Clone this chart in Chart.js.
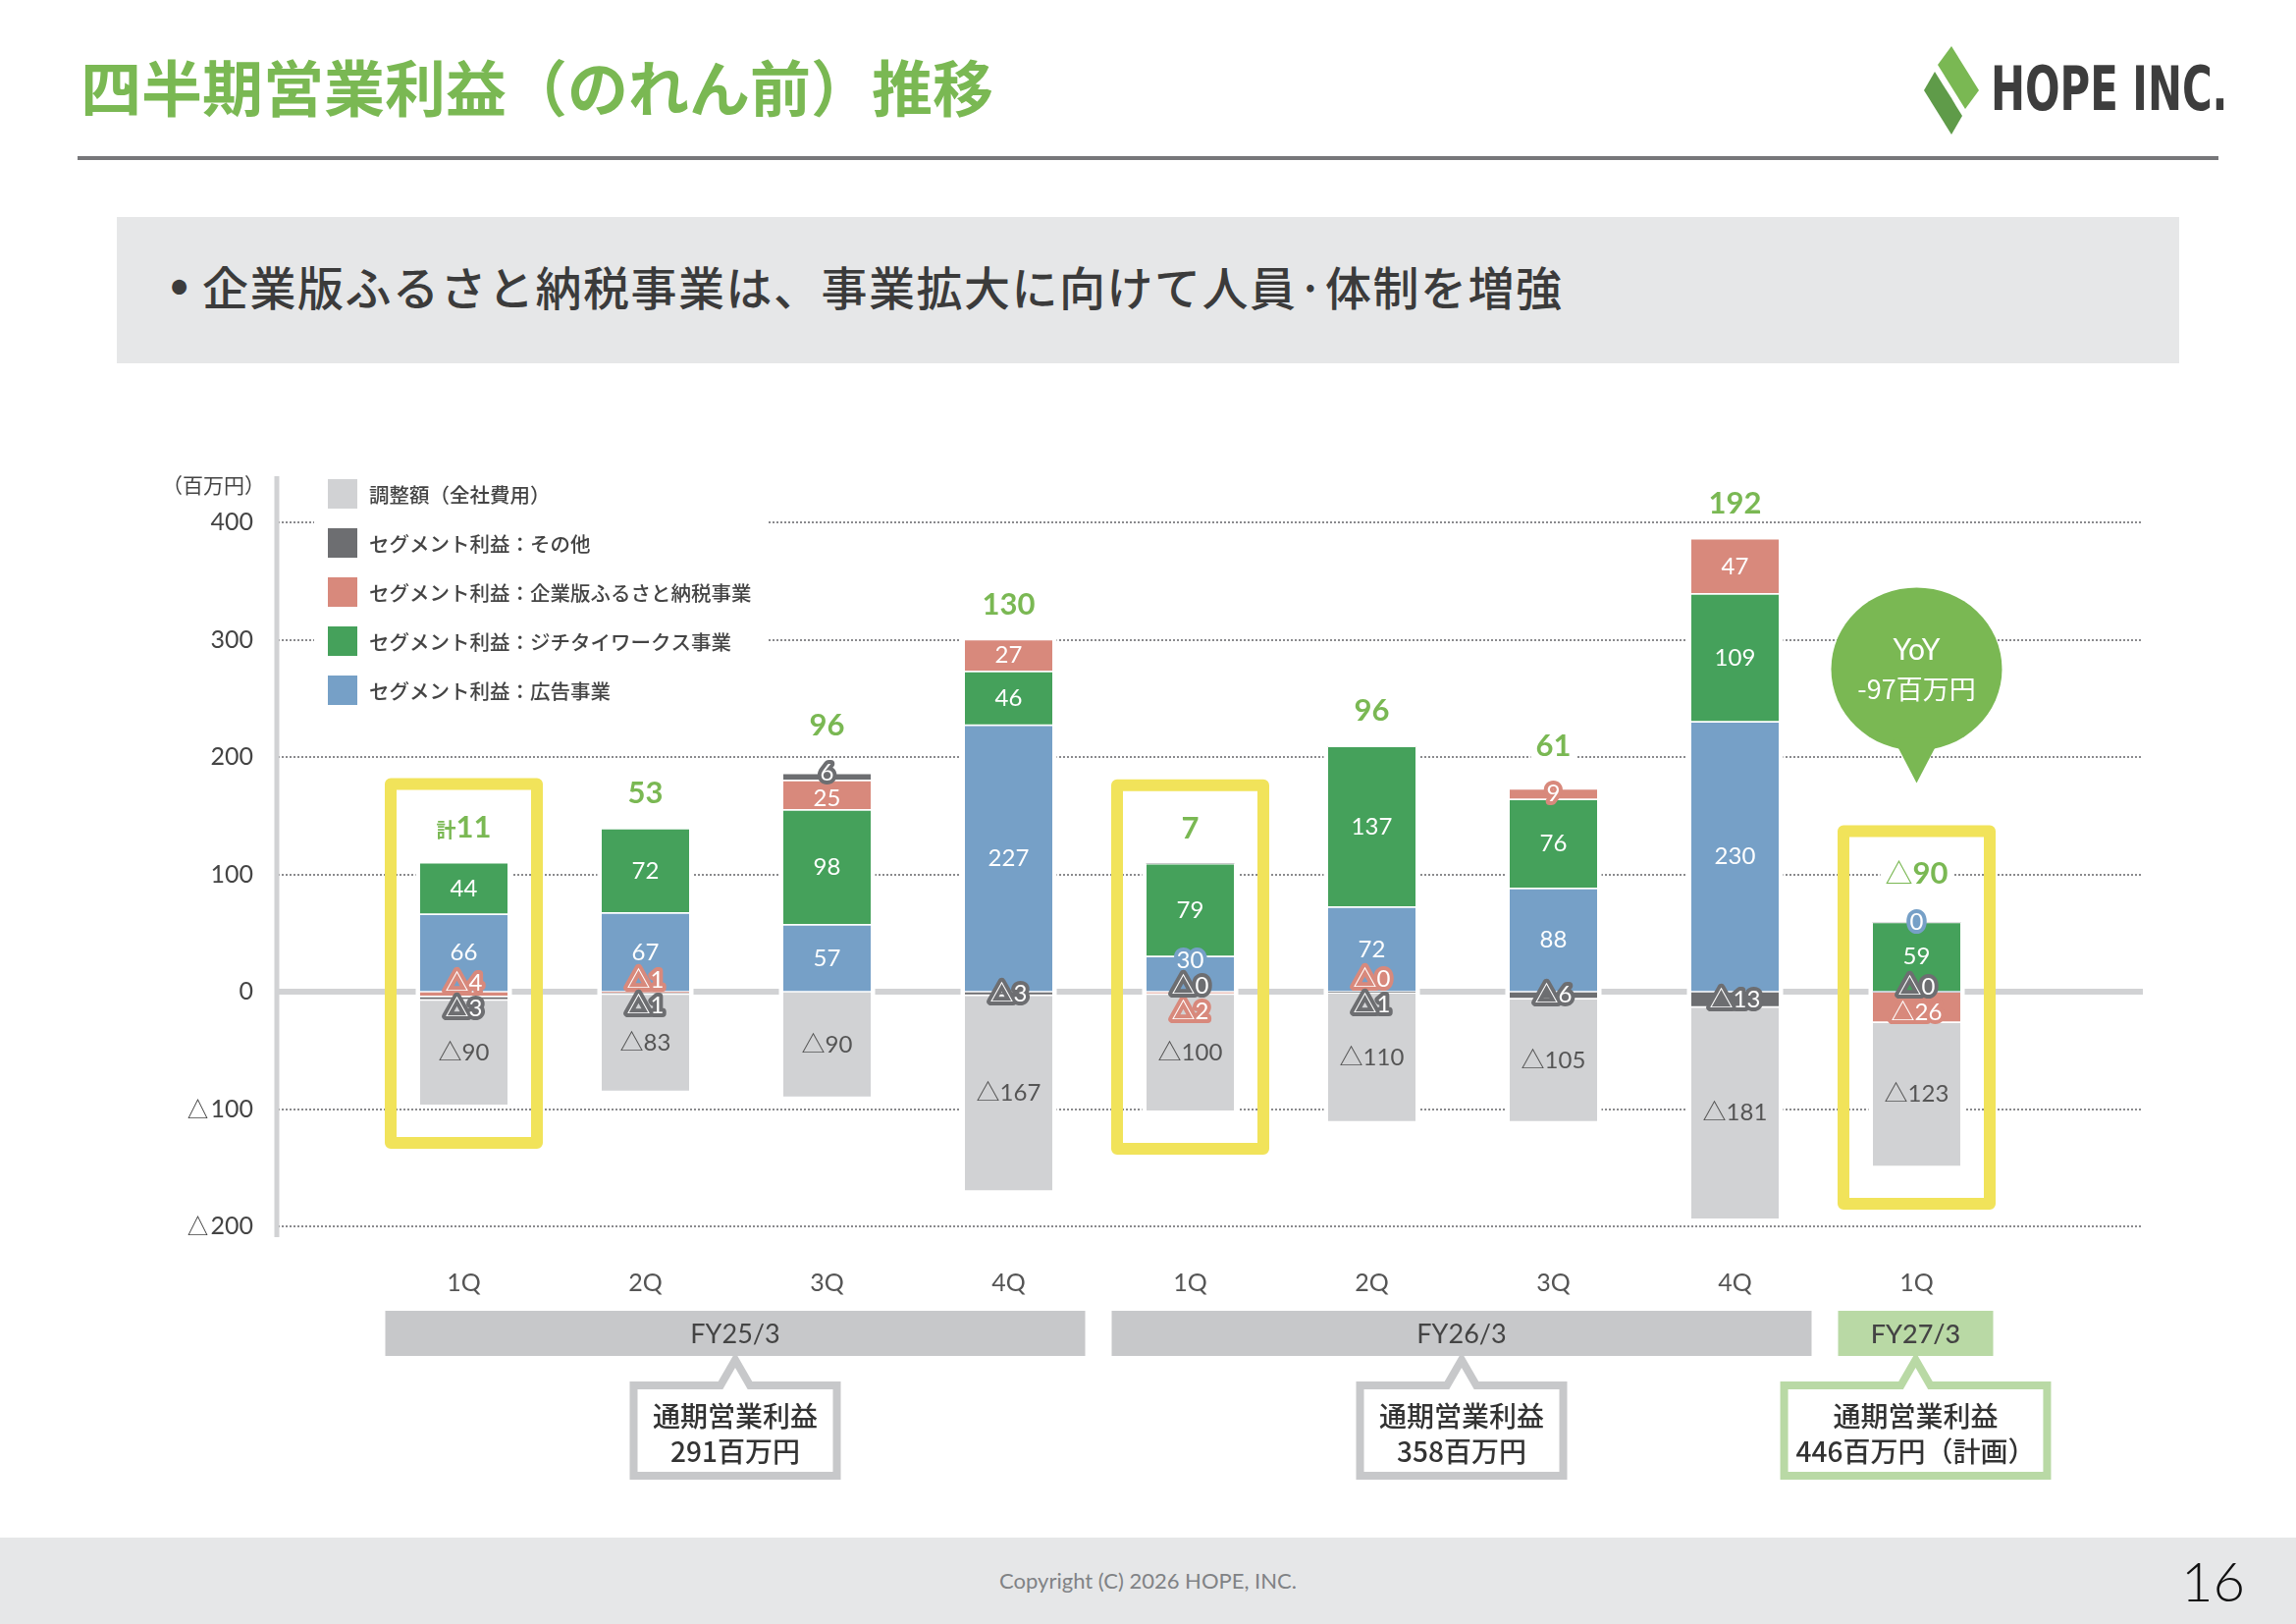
<!DOCTYPE html>
<html lang="ja">
<head>
<meta charset="utf-8">
<title>四半期営業利益（のれん前）推移</title>
<script src="https://cdn.jsdelivr.net/npm/chart.js@4.4.1/dist/chart.umd.min.js"></script>
<style>
  html, body { margin: 0; padding: 0; background: #fff; }
  body { width: 2339px; height: 1654px; position: relative; overflow: hidden; font-family: 'Noto Sans CJK JP', sans-serif; }
  .title { position: absolute; left: 82px; top: 56px; font-size: 62px; line-height: 62px; font-weight: 700; color: #7ab853; white-space: nowrap; }
  .rule { position: absolute; left: 79px; top: 159px; width: 2181px; height: 4px; background: #77777a; }
  .logo { position: absolute; left: 1958px; top: 47px; }
  .logo-text { position: absolute; left: 2028px; top: 60px; font-family: 'Liberation Sans Narrow', 'DejaVu Sans Condensed', sans-serif; font-weight: 700; font-size: 62px; line-height: 62px; color: #3d3d3d; transform-origin: left top; transform: scaleX(0.75); white-space: nowrap; }
  .lead { position: absolute; left: 119px; top: 221px; width: 2101px; height: 149px; background: #e6e7e8; }
  .lead .dot { position: absolute; left: 52px; top: 44px; font-family: Lato, sans-serif; font-size: 40px; line-height: 50px; color: #3b3b3b; }
  .lead .txt { position: absolute; left: 87px; top: 45px; font-size: 47px; line-height: 50px; font-weight: 500; letter-spacing: 1.5px; color: #3b3b3b; white-space: nowrap; }
  .footer { position: absolute; left: 0; top: 1566px; width: 2339px; height: 88px; background: #e6e7e8; }
  .copy { position: absolute; left: 0; width: 2339px; top: 30px; text-align: center; font-family: Lato, sans-serif; font-size: 22px; line-height: 28px; color: #808285; }
  .page { position: absolute; left: 2222px; top: 12px; font-family: Lato, sans-serif; font-weight: 300; font-size: 56px; line-height: 64px; color: #111; }
  #chart { position: absolute; left: 0; top: 0; }
</style>
</head>
<body>
<div class="title">四半期営業利益（のれん前）推移</div>
<svg class="logo" width="62" height="92" viewBox="0 0 62 92">
  <polygon points="30,0 58,45 44,64 16,19" fill="#7ab853"/>
  <polygon points="13,26 41,71 30,90 2,45" fill="#5f9b49"/>
  <polygon points="19,36 30,53 34,60 24,44" fill="#4d8a3b"/>
</svg>
<div class="logo-text">HOPE INC.</div>
<div class="rule"></div>
<div class="lead"><span class="dot">•</span><span class="txt">企業版ふるさと納税事業は、事業拡大に向けて人員·体制を増強</span></div>
<div class="footer"><div class="copy">Copyright (C) 2026 HOPE, INC.</div><div class="page">16</div></div>
<canvas id="chart" width="2339" height="1654"></canvas>
<script>
// 四半期ごとのセグメント利益（百万円）、△はマイナス
const quarterLabels = ['1Q', '2Q', '3Q', '4Q', '1Q', '2Q', '3Q', '4Q', '1Q'];
const fiscalYears = ['FY25/3', 'FY26/3', 'FY27/3'];
const fiscalYearOf = [0, 0, 0, 0, 1, 1, 1, 1, 2];
const adSegment = [66, 67, 57, 227, 30, 72, 88, 230, 0];
const jichitaiSegment = [44, 72, 98, 46, 79, 137, 76, 109, 59];
const furusatoSegment = [-4, -1, 25, 27, -2, -0, 9, 47, -26];
const otherSegment = [-3, -1, 6, -3, -0, -1, -6, -13, -0];
const corporateCost = [-90, -83, -90, -167, -100, -110, -105, -181, -123];
const quarterTotals = [11, 53, 96, 130, 7, 96, 61, 192, -90];
const totalPrefix = ['計', '', '', '', '', '', '', '', ''];
const annualProfit = [291, 358, 446];
const annualNote = ['', '', '（計画）'];
const highlighted = [0, 4, 8];
const yoyText = ['YoY', '-97百万円'];

const segColors = ['#76a0c7', '#45a15b', '#d8897c', '#6d6e71', '#d1d2d4'];
const fyColors = ['#c7c8ca', '#c7c8ca', '#b9d9a5'];
const GREEN = '#7ab853';
const NUM_FONT = 'Lato, "Noto Sans CJK JP", sans-serif';
const JP_FONT = '"Noto Sans CJK JP", sans-serif';

const isMinus = v => v < 0 || Object.is(v, -0);
const fmt = v => isMinus(v) ? '△' + Math.abs(v) : String(v);

// stack extents per bar, same order Chart.js stacks them
function stackLayout(chart, i) {
    const y = chart.scales.y;
    let pos = 0, neg = 0;
    const segs = chart.data.datasets.map((ds, d) => {
        const v = ds.data[i];
        const minus = isMinus(v);
        const a = minus ? neg : pos;
        if (minus) neg += v; else pos += v;
        const b = minus ? neg : pos;
        return { d, v, minus, p0: y.getPixelForValue(a), p1: y.getPixelForValue(b) };
    });
    return { segs, top: y.getPixelForValue(pos), bottom: y.getPixelForValue(neg), zero: y.getPixelForValue(0) };
}

// put segment labels at segment centres, spread apart the small ones that collide
function placeLabels(chart, i) {
    const L = stackLayout(chart, i);
    const items = [];
    L.segs.forEach(s => {
        if (s.d === 4) return;
        const h = Math.abs(s.p1 - s.p0);
        let y0;
        if (s.v === 0 && !s.minus) y0 = L.top;
        else if (s.v === 0) y0 = L.zero;
        else y0 = (s.p0 + s.p1) / 2;
        items.push(Object.assign({}, s, { h, y0, y: y0 }));
    });
    const movable = items
        .filter(t => t.h < 45 && !(t.v === 0 && !t.minus))
        .sort((a, b) => (a.y0 - b.y0) || (a.minus - b.minus));
    const gap = 26;
    let groups = movable.map(t => [t]);
    let changed = true;
    while (changed) {
        changed = false;
        for (let g = 0; g < groups.length - 1; g++) {
            const A = groups[g], B = groups[g + 1];
            if (A[A.length - 1].y + gap > B[0].y + 0.01) {
                const m = A.concat(B);
                const mean = m.reduce((s, t) => s + t.y0, 0) / m.length;
                m.forEach((t, k) => { t.y = mean + (k - (m.length - 1) / 2) * gap; });
                groups.splice(g, 2, m);
                changed = true;
                break;
            }
        }
    }
    items.forEach(t => { t.outlined = t.h < 27 || Math.abs(t.y - t.y0) > 4; });
    const topMost = Math.min(L.top, ...items.map(t => t.y - 13));
    return { L, items, totalY: topMost - 36 };
}

const decor = {
    id: 'decor',
    beforeDatasetsDraw(chart) {
        const { ctx, scales: { x, y } } = chart;
        const left = 283, right = 2183;
        ctx.save();
        ctx.strokeStyle = '#8a8a8d';
        ctx.lineWidth = 2;
        ctx.setLineDash([2, 2]);
        y.ticks.forEach(t => {
            if (t.value === 0) return;
            const py = Math.round(y.getPixelForValue(t.value));
            ctx.beginPath(); ctx.moveTo(left, py); ctx.lineTo(right, py); ctx.stroke();
        });
        ctx.setLineDash([]);
        ctx.strokeStyle = '#d1d2d4';
        ctx.lineWidth = 6;
        const pz = y.getPixelForValue(0);
        ctx.beginPath(); ctx.moveTo(left, pz); ctx.lineTo(right, pz); ctx.stroke();
        ctx.lineWidth = 5;
        ctx.beginPath(); ctx.moveTo(282, y.top - 47); ctx.lineTo(282, y.bottom + 11); ctx.stroke();
        // white halo round each bar
        ctx.fillStyle = '#fff';
        quarterLabels.forEach((_, i) => {
            const L = stackLayout(chart, i);
            const cx = x.getPixelForValue(i);
            ctx.fillRect(cx - 49, L.top - 2, 98, L.bottom - L.top + 4);
        });
        ctx.restore();
    },
    afterDatasetsDraw(chart) {
        const { ctx, scales: { x, y } } = chart;
        ctx.save();
        ctx.textAlign = 'center';
        ctx.textBaseline = 'middle';
        quarterLabels.forEach((_, i) => {
            const cx = x.getPixelForValue(i);
            const P = placeLabels(chart, i);
            // segment labels
            ctx.font = '24px ' + NUM_FONT;
            P.items.forEach(t => {
                const txt = fmt(t.v);
                if (t.outlined) {
                    ctx.lineJoin = 'round';
                    ctx.lineWidth = 8;
                    ctx.strokeStyle = segColors[t.d];
                    ctx.strokeText(txt, cx, t.y);
                }
                ctx.fillStyle = '#fff';
                ctx.fillText(txt, cx, t.y);
            });
            const g = P.L.segs[4];
            ctx.fillStyle = '#555';
            ctx.fillText(fmt(g.v), cx, (g.p0 + g.p1) / 2);

            // total above the bar
            const tv = quarterTotals[i];
            const pre = totalPrefix[i] || (isMinus(tv) ? '△' : '');
            const num = String(Math.abs(tv));
            const preFont = totalPrefix[i] ? 'bold 20px ' + JP_FONT : '28px ' + NUM_FONT;
            const numFont = 'bold 31px ' + NUM_FONT;
            ctx.font = preFont; const wPre = pre ? ctx.measureText(pre).width : 0;
            ctx.font = numFont; const wNum = ctx.measureText(num).width;
            const w = wPre + wNum;
            ctx.fillStyle = '#fff';
            ctx.fillRect(cx - w / 2 - 5, P.totalY - 16, w + 10, 32);
            ctx.fillStyle = GREEN;
            ctx.textAlign = 'left';
            if (pre) { ctx.font = preFont; ctx.fillText(pre, cx - w / 2, P.totalY + (totalPrefix[i] ? 3 : 0)); }
            ctx.font = numFont; ctx.fillText(num, cx - w / 2 + wPre, P.totalY);
            ctx.textAlign = 'center';

            // highlight frame
            if (highlighted.includes(i)) {
                const top = P.totalY - 50, bottom = P.L.bottom + 44;
                ctx.strokeStyle = '#f1e35a';
                ctx.lineWidth = 12;
                ctx.strokeRect(cx - 80.5 + 6, top + 6, 161 - 12, bottom - top - 12);
            }
        });

        // legend (top-left, reverse dataset order)
        ctx.fillStyle = '#fff';
        ctx.fillRect(320, 478, 462, 248);
        ctx.textAlign = 'left';
        ctx.font = '500 20.5px ' + JP_FONT;
        const ds = chart.data.datasets.slice().reverse();
        ds.forEach((d, k) => {
            const cy = 503 + k * 50;
            ctx.fillStyle = d.backgroundColor;
            ctx.fillRect(334, cy - 15, 30, 30);
            ctx.fillStyle = '#444';
            ctx.fillText(d.label, 376, cy + 1);
        });
        // unit
        ctx.textAlign = 'right';
        ctx.font = '21px ' + JP_FONT;
        ctx.fillStyle = '#444';
        ctx.fillText('（百万円）', 270, y.top - 38);

        // YoY bubble over the last quarter
        const bx = x.getPixelForValue(quarterLabels.length - 1);
        const by = y.getPixelForValue(275);
        ctx.fillStyle = GREEN;
        ctx.beginPath(); ctx.ellipse(bx, by, 87, 83, 0, 0, Math.PI * 2); ctx.fill();
        ctx.beginPath(); ctx.moveTo(bx - 24, by + 70); ctx.lineTo(bx + 24, by + 70); ctx.lineTo(bx, by + 116); ctx.closePath(); ctx.fill();
        ctx.fillStyle = '#fff';
        ctx.textAlign = 'center';
        ctx.font = '30px ' + NUM_FONT;
        ctx.fillText(yoyText[0], bx, by - 19);
        ctx.font = '27px ' + JP_FONT;
        ctx.fillText(yoyText[1], bx, by + 20);
        ctx.restore();
    },
    afterDraw(chart) {
        const { ctx, scales: { x } } = chart;
        ctx.save();
        ctx.textAlign = 'center';
        ctx.textBaseline = 'middle';
        fiscalYears.forEach((fy, k) => {
            const idx = fiscalYearOf.map((f, i) => f === k ? i : -1).filter(i => i >= 0);
            const x0 = x.getPixelForValue(idx[0]) - 80;
            const x1 = x.getPixelForValue(idx[idx.length - 1]) + 78;
            const cx = (x0 + x1) / 2;
            ctx.fillStyle = fyColors[k];
            ctx.fillRect(x0, 1335, x1 - x0, 46);
            ctx.fillStyle = '#444';
            ctx.font = (k === 2 ? '500 ' : '') + '27px ' + NUM_FONT;
            ctx.fillText(fy, cx, 1359);

            // annual profit callout
            const line1 = '通期営業利益';
            const line2 = annualProfit[k] + '百万円' + annualNote[k];
            ctx.font = '500 28px ' + JP_FONT;
            const tw = Math.max(ctx.measureText(line1).width, ctx.measureText(line2).width);
            const bw = Math.max(207, tw + 24);
            const l = cx - bw / 2, r = cx + bw / 2, t = 1411, b = 1503;
            ctx.beginPath();
            ctx.moveTo(l, t); ctx.lineTo(cx - 15, t); ctx.lineTo(cx, t - 26); ctx.lineTo(cx + 15, t);
            ctx.lineTo(r, t); ctx.lineTo(r, b); ctx.lineTo(l, b); ctx.closePath();
            ctx.fillStyle = '#fff'; ctx.fill();
            ctx.strokeStyle = fyColors[k]; ctx.lineWidth = 8; ctx.lineJoin = 'miter'; ctx.stroke();
            ctx.fillStyle = '#333';
            ctx.fillText(line1, cx, 1442);
            ctx.fillText(line2, cx, 1478);
        });
        ctx.restore();
    }
};

const chart = new Chart(document.getElementById('chart').getContext('2d'), {
    type: 'bar',
    data: {
        labels: quarterLabels,
        datasets: [
            { label: 'セグメント利益：広告事業', data: adSegment, backgroundColor: segColors[0] },
            { label: 'セグメント利益：ジチタイワークス事業', data: jichitaiSegment, backgroundColor: segColors[1] },
            { label: 'セグメント利益：企業版ふるさと納税事業', data: furusatoSegment, backgroundColor: segColors[2] },
            { label: 'セグメント利益：その他', data: otherSegment, backgroundColor: segColors[3] },
            { label: '調整額（全社費用）', data: corporateCost, backgroundColor: segColors[4] }
        ]
    },
    options: {
        responsive: false,
        animation: false,
        devicePixelRatio: 1,
        layout: { padding: { top: 532, left: 0, right: 294, bottom: 305 } },
        datasets: {
            bar: {
                barThickness: 89,
                borderColor: '#fff',
                borderWidth: { top: 1.2, bottom: 1.2, left: 0, right: 0 },
                borderSkipped: false
            }
        },
        plugins: { legend: { display: false }, tooltip: { enabled: false } },
        scales: {
            x: {
                stacked: true,
                grid: { display: false, drawTicks: false },
                border: { display: false },
                ticks: { color: '#555', padding: 43, font: { size: 25, family: 'Lato' } },
                afterFit: s => { s.height = 100; }
            },
            y: {
                stacked: true,
                min: -200,
                max: 400,
                grid: { display: false, drawTicks: false },
                border: { display: false },
                ticks: {
                    stepSize: 100,
                    padding: 122,
                    color: '#444',
                    font: { size: 25, family: 'Lato' },
                    callback: v => fmt(v)
                },
                afterFit: s => { s.width = 380; }
            }
        }
    },
    plugins: [decor]
});
</script>
</body>
</html>
